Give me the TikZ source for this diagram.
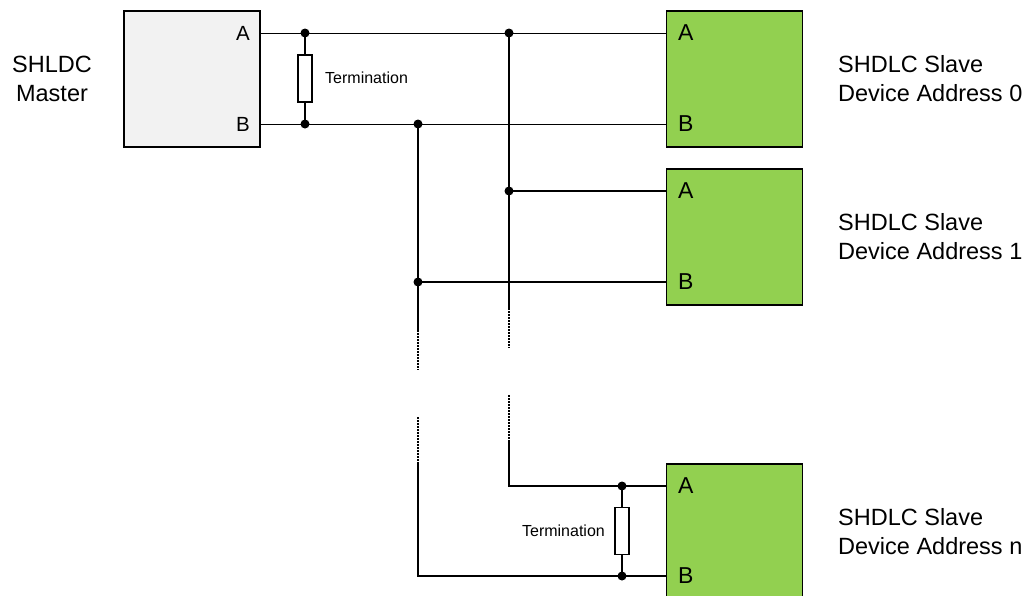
\documentclass[tikz,border=0pt]{standalone}
\usepackage{fontspec}
\setmainfont{Liberation Sans}
\definecolor{slavegreen}{HTML}{92D050}
\definecolor{mastergray}{HTML}{F2F2F2}
\begin{document}
\begin{tikzpicture}[
    x=1pt, y=-1pt,
    box/.style={rectangle, draw, line width=1.4pt, minimum width=136pt, minimum height=136pt, inner sep=0pt},
    master/.style={box, fill=mastergray},
    slave/.style={box, fill=slavegreen},
    pin/.style={font=\fontsize{23}{27}\selectfont, inner sep=0pt},
    mpin/.style={font=\fontsize{20.5}{24}\selectfont, inner sep=0pt},
    label/.style={font=\fontsize{23.5}{29}\selectfont, align=left, inner sep=0pt},
    resistor/.style={rectangle, draw, line width=1.1pt, fill=white, minimum width=14pt, minimum height=47pt, inner sep=0pt},
    small/.style={font=\fontsize{16}{19}\selectfont, inner sep=0pt},
    bus/.style={line width=1pt},
    wire/.style={line width=1.7pt},
    gap/.style={line width=1.5pt, dash pattern=on 1.6pt off 1.4pt},
    dot/.style={circle, fill=black, inner sep=0pt, minimum size=9pt}
]
\clip (0,0) rectangle (1029,595);

% Master and slaves
\node[master] (master) at (192,79) {};
\node[slave] (s0) at (734.5,79) {};
\node[slave] (s1) at (734.5,237) {};
\node[slave, minimum height=150pt] (sn) at (734.5,539) {};

% Pin labels
\node[mpin, anchor=east] (mA) at (250,33) {A};
\node[mpin, anchor=east] (mB) at (250,124) {B};
\node[pin, anchor=west] (s0A) at (678,33) {A};
\node[pin, anchor=west] (s0B) at (678,124) {B};
\node[pin, anchor=west] (s1A) at (678,191) {A};
\node[pin, anchor=west] (s1B) at (678,282) {B};
\node[pin, anchor=west] (snA) at (678,486) {A};
\node[pin, anchor=west] (snB) at (678,576) {B};

% Device labels
\node[label, align=center] (mlabel) at (52,78.5) {SHLDC\\Master};
\node[label, anchor=west] (l0) at (838,78.5) {SHDLC Slave\\Device Address 0};
\node[label, anchor=west] (l1) at (838,236.5) {SHDLC Slave\\Device Address 1};
\node[label, anchor=west] (ln) at (838,531.5) {SHDLC Slave\\Device Address n};

% Junctions
\coordinate (tA) at (305,33);
\coordinate (tB) at (305,124);
\coordinate (jA) at (509,33);
\coordinate (jB) at (418,124);
\coordinate (jA1) at (509,191);
\coordinate (jB1) at (418,282);
\coordinate (tAn) at (622,486);
\coordinate (tBn) at (622,576);
\coordinate (cAn) at (509,486);
\coordinate (cBn) at (418,576);

% Breaks in the bus
\coordinate (aCut1) at (509,308);
\coordinate (aCut2) at (509,348);
\coordinate (aCut3) at (509,395);
\coordinate (aCut4) at (509,440);
\coordinate (bCut1) at (418,330);
\coordinate (bCut2) at (418,370);
\coordinate (bCut3) at (418,417);
\coordinate (bCut4) at (418,463);

% Terminations
\node[resistor] (r1) at (305,78.5) {};
\node[resistor] (rn) at (622,531) {};
\node[small, anchor=west] (r1label) at (325,78) {Termination};
\node[small, anchor=east] (rnlabel) at (605,531) {Termination};

% Main bus
\draw[bus] (master.east |- mA) -- (s0.west |- s0A);
\draw[bus] (master.east |- mB) -- (s0.west |- s0B);
\draw[wire] (tA) -- (r1) -- (tB);

% Drops to the slaves
\draw[wire] (jA) -- (aCut1);
\draw[gap] (aCut1) -- (aCut2);
\draw[gap] (aCut3) -- (aCut4);
\draw[wire] (aCut4) -- (cAn) -- (sn.west |- snA);
\draw[wire] (jB) -- (bCut1);
\draw[gap] (bCut1) -- (bCut2);
\draw[gap] (bCut3) -- (bCut4);
\draw[wire] (bCut4) -- (cBn) -- (sn.west |- snB);
\draw[wire] (jA1) -- (s1.west |- s1A);
\draw[wire] (jB1) -- (s1.west |- s1B);
\draw[wire] (tAn) -- (rn) -- (tBn);

% Dots
\foreach \p in {tA, tB, jA, jB, jA1, jB1, tAn, tBn}
    \node[dot] at (\p) {};

\end{tikzpicture}
\end{document}
